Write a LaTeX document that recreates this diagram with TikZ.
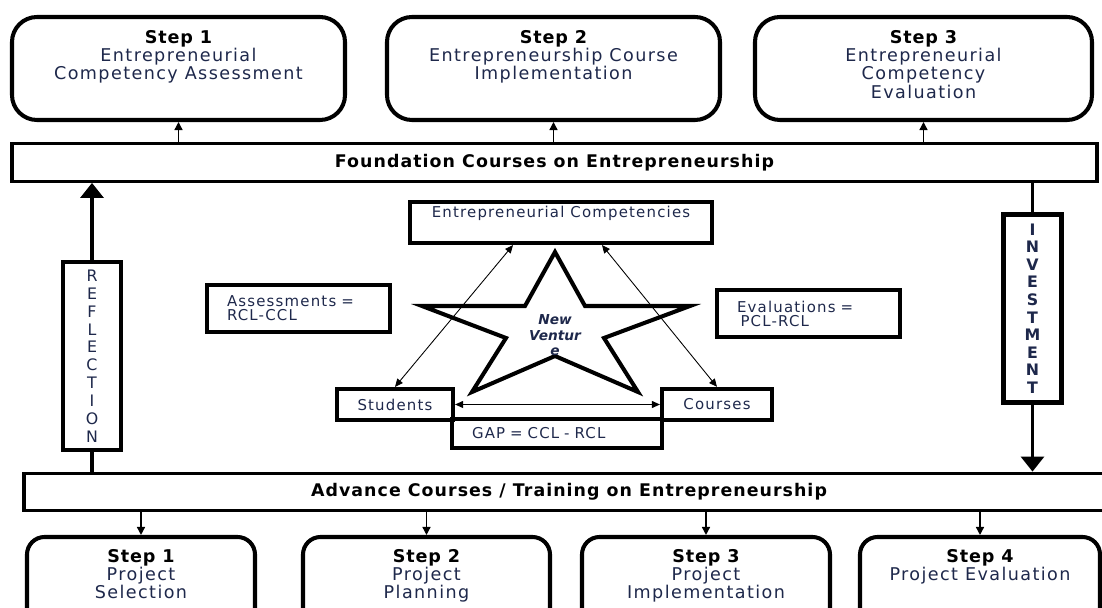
\documentclass[tikz,border=0pt]{standalone}
\usepackage{fontspec}
\setmainfont{DejaVu Sans}
\newfontfamily\bodyfont[LetterSpace=8]{DejaVu Sans}
\newfontfamily\headfont[LetterSpace=5]{DejaVu Sans}
\newfontfamily\barfont[LetterSpace=6]{DejaVu Sans}
\usepackage{xcolor}
\usepackage{tikz}
\usetikzlibrary{arrows.meta, positioning}

\definecolor{inkblue}{RGB}{30,40,75}
\newcommand{\stephead}[1]{{\color{black}\headfont\bfseries Step #1}\\}

\begin{document}
\begin{tikzpicture}[
  stepbox/.style={draw, line width=2.3pt, rounded corners=0.5cm, minimum height=2.06cm, inner sep=0},
  projbox/.style={draw, line width=2.3pt, rounded corners=0.35cm, minimum height=2cm, inner sep=0},
  steptext/.style={align=center, inner sep=0, text=inkblue, font=\bodyfont\fontsize{10}{10.4}\selectfont},
  bar/.style={draw, line width=1.9pt, minimum height=0.75cm, font=\barfont\bfseries\fontsize{9.9}{11}\selectfont},
  innerbox/.style={draw, line width=2.4pt, text=inkblue, font=\bodyfont\fontsize{8.5}{8}\selectfont},
  note/.style={innerbox, align=left, text width=2.86cm, inner xsep=0.4cm, minimum height=0.94cm},
  vbox/.style={draw, line width=2.8pt, fill=white, align=center, minimum width=1.16cm, minimum height=3.76cm, inner sep=0, text=inkblue},
  flowline/.style={line width=1.8pt},
  flowarrow/.style={line width=1.8pt, -{Triangle[width=0.46cm, length=0.3cm]}},
  tickarrow/.style={line width=0.8pt, -{Triangle[width=1.6mm, length=1.6mm]}},
  linkarrow/.style={line width=0.5pt, {Triangle[width=1.4mm, length=1.6mm]}-{Triangle[width=1.4mm, length=1.6mm]}}
]
\useasboundingbox (0,0) rectangle (22.04,-12.16);
\clip (0,0) rectangle (22.04,-12.16);

% --- Top: competency steps ---
\node[stepbox, minimum width=6.66cm] (assessstep) at (3.57,-1.37) {};
\node[stepbox, minimum width=6.66cm] (implstep)   at (11.07,-1.37) {};
\node[stepbox, minimum width=6.74cm] (evalstep)   at (18.47,-1.37) {};
\node[steptext, below=0.3cm of assessstep.north] (assesstext) {\stephead{1}Entrepreneurial\\Competency Assessment};
\node[steptext, below=0.3cm of implstep.north] (impltext) {\stephead{2}Entrepreneurship Course\\Implementation};
\node[steptext, below=0.3cm of evalstep.north] (evaltext) {\stephead{3}Entrepreneurial\\Competency\\Evaluation};

% --- Course bars ---
\node[bar, minimum width=21.7cm] (found) at (11.09,-3.25) {Foundation Courses on Entrepreneurship};
\node[bar, minimum width=21.8cm] (adv)   at (11.38,-9.84) {Advance Courses / Training on Entrepreneurship};

\draw[tickarrow] (found.north -| assessstep) -- (assessstep.south);
\draw[tickarrow] (found.north -| implstep) -- (implstep.south);
\draw[tickarrow] (found.north -| evalstep) -- (evalstep.south);

% --- Reflection / investment loop ---
\node[vbox, font=\bodyfont\fontsize{9}{10.15}\selectfont] (refl) at (1.84,-7.12) {R\\E\\F\\L\\E\\C\\T\\I\\O\\N};
\node[vbox, font=\bodyfont\bfseries\fontsize{9}{9.97}\selectfont] (inv) at (20.65,-6.17) {I\\N\\V\\E\\S\\T\\M\\E\\N\\T};
\draw[flowline] (refl.south) -- (adv.north -| refl);
\draw[flowarrow] (refl.north) -- (found.south -| refl);
\draw[flowline] (found.south -| inv) -- (inv.north);
\draw[flowarrow] (inv.south) -- (adv.north -| inv);

% --- Centre: competencies, students and courses ---
\node[innerbox, minimum width=6.04cm, text height=0.2cm, text depth=0.38cm, inner ysep=0.12cm] (comp) at (11.22,-4.45) {Entrepreneurial Competencies};

\draw[line width=2.3pt, line join=miter] (11.1,-5.04) -- (11.7,-6.12) -- (13.8,-6.12) -- (12.08,-6.76)
  -- (12.76,-7.84) -- (11.1,-7.12) -- (9.44,-7.84) -- (10.12,-6.76) -- (8.44,-6.12) -- (10.5,-6.12) -- cycle;
\node[align=center, text=inkblue, font=\bfseries\itshape\fontsize{7.8}{8.8}\selectfont] (venture) at (11.1,-6.71) {New\\Ventur\\e};

\node[innerbox, minimum width=2.32cm, minimum height=0.62cm] (stud) at (7.9,-8.09) {Students};
\node[innerbox, minimum width=2.2cm, minimum height=0.62cm]  (cour) at (14.34,-8.09) {Courses};
\node[innerbox, align=left, text width=3.4cm, inner xsep=0.4cm, minimum height=0.58cm] (gap) at (11.14,-8.67) {GAP = CCL - RCL};

\draw[linkarrow] (stud.north) -- ([xshift=-0.96cm]comp.south);
\draw[linkarrow] (cour.north) -- ([xshift=0.82cm]comp.south);
\draw[linkarrow] (stud.east) -- (cour.west);

\node[note] (assess) at (5.97,-6.17) {Assessments =\\RCL-CCL};
\node[note] (evalu)  at (16.17,-6.27) {Evaluations =\\\hspace*{2pt}PCL-RCL};

% --- Bottom: project steps ---
\node[projbox, minimum width=4.56cm] (selstep)  at (2.82,-11.74) {};
\node[projbox, minimum width=4.94cm] (planstep) at (8.53,-11.74) {};
\node[projbox, minimum width=4.96cm] (implproj) at (14.12,-11.74) {};
\node[projbox, minimum width=4.8cm]  (evalproj) at (19.6,-11.74) {};
\node[steptext, below=0.28cm of selstep.north] (seltext) {\stephead{1}Project\\Selection};
\node[steptext, below=0.28cm of planstep.north] (plantext) {\stephead{2}Project\\Planning};
\node[steptext, below=0.28cm of implproj.north] (impprojtext) {\stephead{3}Project\\Implementation};
\node[steptext, below=0.28cm of evalproj.north] (evalprojtext) {\stephead{4}Project Evaluation};

\draw[tickarrow] (adv.south -| selstep) -- (selstep.north);
\draw[tickarrow] (adv.south -| planstep) -- (planstep.north);
\draw[tickarrow] (adv.south -| implproj) -- (implproj.north);
\draw[tickarrow] (adv.south -| evalproj) -- (evalproj.north);

\end{tikzpicture}
\end{document}
